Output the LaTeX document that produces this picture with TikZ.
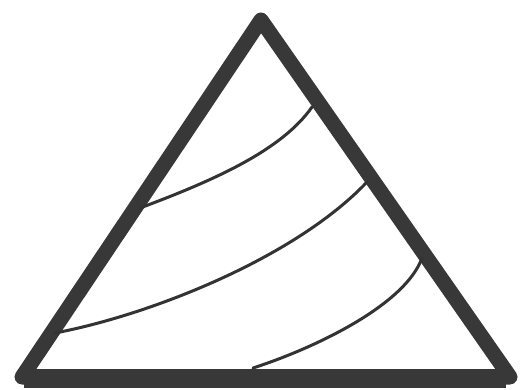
\documentclass[tikz,border=0pt]{standalone}
\begin{document}
\begin{tikzpicture}[x=1pt,y=-1pt,
  frame/.style={draw=black!78,line width=15pt,line join=round},
  base/.style={draw=black!78,line width=19pt,line cap=butt},
  band/.style={draw=black!80,line width=3pt,line cap=round}]
\useasboundingbox (0,0) rectangle (521,390);
\fill[white] (0,0) rectangle (521,390);
\coordinate (A) at (261,20);
\coordinate (B) at (22,377);
\coordinate (C) at (510,377);
\draw[frame] (A) -- (B) -- (C) -- cycle;
\draw[base] (24,378) -- (506,378);
\draw[band] (140,208) .. controls (215,180) and (282,150) .. (312,107);
\draw[band] (55,333) .. controls (150,315) and (295,258) .. (367,182);
\draw[band] (253,368) .. controls (315,348) and (405,305) .. (422,258);
\end{tikzpicture}
\end{document}
